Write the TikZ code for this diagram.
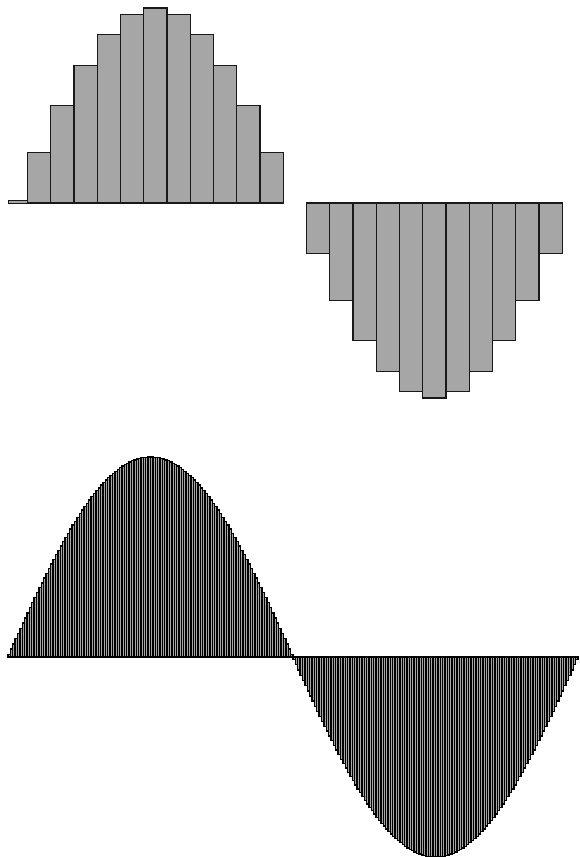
\documentclass[tikz,border=0pt]{standalone}
\usepackage{tikz}

\tikzset{
	coarsebar/.style={fill=black!35, draw=black!90, line width=1.2pt},
	finebar/.style={fill=black!35, draw=black, line width=1.3pt}
}

\begin{document}
\begin{tikzpicture}[x=1pt,y=1pt]
	\newcommand{\barwidth}{23.25}
	\newcommand{\finewidth}{2.375}
	\useasboundingbox (0,0) rectangle (579,857);
	% coarse sum, 24 bars over one period
	\draw[coarsebar, line width=0.8pt] (8,654) rectangle (4.25+\barwidth,657);
	\foreach \k in {1,...,11,13,14,...,23}
	{
		\draw[coarsebar] (4.25+\k*\barwidth,654) rectangle (4.25+\k*\barwidth+\barwidth,{654+195*sin(\k*15)});
	}
	% fine sum, 240 bars
	\foreach \k in {0,...,239}
	{
		\draw[finebar] (8+\k*\finewidth,200) rectangle (8+\k*\finewidth+\finewidth,{200+200*sin((\k+0.5)*1.5)});
	}
\end{tikzpicture}
\end{document}
